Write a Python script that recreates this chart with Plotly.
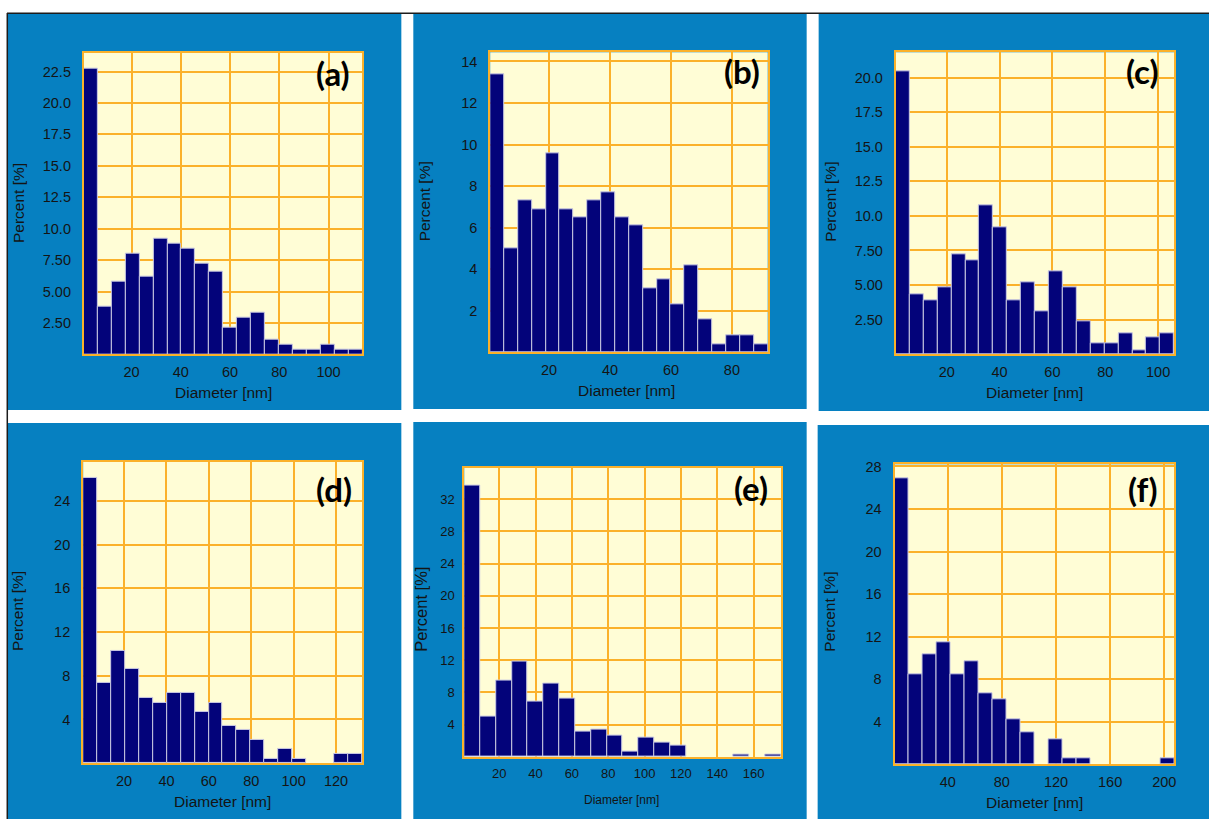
import numpy as np
import plotly.graph_objects as go

W, H = 1211, 819

# ---- data: percent of particles per diameter bin (20 bins per sample) ----
panel_labels = ["(a)", "(b)", "(c)", "(d)", "(e)", "(f)"]
bin_start_nm = [0.65, 0.66, 0.72, 0.71, 0.77, 0.66]
bin_width_nm = [5.655, 4.555, 5.266, 6.58, 8.716, 10.33]

pct_a = [22.7, 3.8, 5.8, 8.0, 6.2, 9.2, 8.8, 8.4, 7.2, 6.6,
         2.1, 2.9, 3.3, 1.2, 0.8, 0.4, 0.4, 0.8, 0.4, 0.4]
pct_b = [13.4, 5.0, 7.3, 6.9, 9.6, 6.9, 6.5, 7.3, 7.7, 6.5,
         6.1, 3.1, 3.5, 2.3, 4.2, 1.6, 0.4, 0.8, 0.8, 0.4]
pct_c = [20.5, 4.3, 3.9, 4.8, 7.2, 6.8, 10.8, 9.2, 3.9, 5.2,
         3.1, 6.0, 4.8, 2.4, 0.8, 0.8, 1.5, 0.3, 1.2, 1.5]
pct_d = [26.1, 7.3, 10.3, 8.6, 6.0, 5.5, 6.4, 6.4, 4.7, 5.5,
         3.4, 3.0, 2.1, 0.4, 1.3, 0.4, 0.0, 0.0, 0.8, 0.8]
pct_e = [33.7, 5.0, 9.5, 11.8, 6.9, 9.1, 7.3, 3.1, 3.4, 2.7,
         0.7, 2.4, 1.8, 1.4, 0.0, 0.0, 0.0, 0.3, 0.0, 0.3]
pct_f = [26.9, 8.5, 10.3, 11.5, 8.5, 9.7, 6.7, 6.1, 4.2, 3.0,
         0.0, 2.4, 0.6, 0.6, 0.0, 0.0, 0.0, 0.0, 0.0, 0.6]
percents = [pct_a, pct_b, pct_c, pct_d, pct_e, pct_f]

x_ticks_a = [20, 40, 60, 80, 100]
x_ticks_b = [20, 40, 60, 80]
x_ticks_c = [20, 40, 60, 80, 100]
x_ticks_d = [20, 40, 60, 80, 100, 120]
x_ticks_e = [20, 40, 60, 80, 100, 120, 140, 160]
x_ticks_f = [40, 80, 120, 160, 200]
x_ticks = [x_ticks_a, x_ticks_b, x_ticks_c, x_ticks_d, x_ticks_e, x_ticks_f]

y_ticks_a = [2.5, 5.0, 7.5, 10.0, 12.5, 15.0, 17.5, 20.0, 22.5]
y_text_a = ["2.50", "5.00", "7.50", "10.0", "12.5", "15.0", "17.5", "20.0", "22.5"]
y_ticks_b = [2, 4, 6, 8, 10, 12, 14]
y_text_b = ["2", "4", "6", "8", "10", "12", "14"]
y_ticks_c = [2.5, 5.0, 7.5, 10.0, 12.5, 15.0, 17.5, 20.0]
y_text_c = ["2.50", "5.00", "7.50", "10.0", "12.5", "15.0", "17.5", "20.0"]
y_ticks_d = [4, 8, 12, 16, 20, 24]
y_text_d = ["4", "8", "12", "16", "20", "24"]
y_ticks_e = [4, 8, 12, 16, 20, 24, 28, 32]
y_text_e = ["4", "8", "12", "16", "20", "24", "28", "32"]
y_ticks_f = [4, 8, 12, 16, 20, 24, 28]
y_text_f = ["4", "8", "12", "16", "20", "24", "28"]
y_ticks = [y_ticks_a, y_ticks_b, y_ticks_c, y_ticks_d, y_ticks_e, y_ticks_f]
y_texts = [y_text_a, y_text_b, y_text_c, y_text_d, y_text_e, y_text_f]

# ---- layout (pixel boxes) ----
y_top = [24.0, 14.44, 21.84, 27.58, 35.9, 28.2]
panel_box = [(8, 8, 402, 407), (414, 8, 808, 406), (820, 8, 1211, 408),
             (8, 420, 402, 819), (414, 419, 808, 819), (819, 422, 1211, 819)]
plot_box = [(84, 47, 363, 351), (491, 46.7, 769, 349), (897.3, 46.7, 1176, 350.7),
            (83.3, 459.3, 362.7, 762.7), (465, 465, 782.3, 756.5), (896, 461.7, 1176, 764)]
label_pos = [(334, 67), (743, 65), (1144, 65), (335, 487), (752, 486), (1145, 487)]
xtitle_pos = [(223.5, 389), (628, 387.5), (1036.5, 389.5), (223, 801.5), (623, 799.5), (1036, 802.5)]
ytitle_pos = [(18.5, 198), (425.5, 197), (831.5, 197), (17.5, 609), (421, 608), (830.5, 610)]

BLUE = "#0680C1"
PLOT_BG = "#FFFDD6"
GRID = "#FBB12A"
BAR = "#03037A"
BAR_EDGE = "#C9C9E2"
TXT = "#141414"
FONT = "Liberation Sans, Arial, sans-serif"


def px_x(v):
    return v / W


def px_y(v):
    return 1 - v / H


fig = go.Figure()
shapes = []
annotations = []
layout_axes = {}

for i in range(6):
    n = i + 1
    xa = "x" if n == 1 else f"x{n}"
    ya = "y" if n == 1 else f"y{n}"
    x0, y0, x1, y1 = plot_box[i]
    bx0, by0, bx1, by1 = panel_box[i]
    vals = percents[i]
    start, width = bin_start_nm[i], bin_width_nm[i]
    centers = start + width * (np.arange(len(vals)) + 0.5)
    # empty bins get no bar at all (no outline along the baseline)
    heights = [v if v > 0 else None for v in vals]
    compact = i == 4

    fig.add_trace(go.Bar(
        x=centers, y=heights, width=width, xaxis=xa, yaxis=ya,
        marker=dict(color=BAR, line=dict(color=BAR_EDGE, width=1)),
        showlegend=False, hoverinfo="x+y",
    ))

    shapes.append(dict(type="rect", xref="paper", yref="paper", layer="below",
                       x0=px_x(bx0), x1=px_x(bx1), y0=px_y(by1), y1=px_y(by0),
                       fillcolor=BLUE, line=dict(width=0)))
    shapes.append(dict(type="rect", xref="paper", yref="paper", layer="below",
                       x0=px_x(x0), x1=px_x(x1), y0=px_y(y1), y1=px_y(y0),
                       fillcolor=PLOT_BG, line=dict(width=0)))

    axis_common = dict(showgrid=True, gridcolor=GRID, gridwidth=1.5,
                       showline=True, linecolor=GRID, linewidth=2, mirror=True,
                       zeroline=False, ticks="", fixedrange=True,
                       tickfont=dict(family=FONT, size=13 if compact else 14.5, color=TXT))
    layout_axes["xaxis" if n == 1 else f"xaxis{n}"] = dict(
        axis_common, domain=[px_x(x0), px_x(x1)], anchor=ya,
        range=[start, start + width * len(vals)],
        tickmode="array", tickvals=x_ticks[i],
        ticktext=[str(t) for t in x_ticks[i]], ticklabelstandoff=3)
    layout_axes["yaxis" if n == 1 else f"yaxis{n}"] = dict(
        axis_common, domain=[px_y(y1), px_y(y0)], anchor=xa,
        range=[0, y_top[i]], tickmode="array", tickvals=y_ticks[i],
        ticktext=y_texts[i], ticklabelstandoff=5 if compact else 8)

    lx, ly = label_pos[i]
    annotations.append(dict(text=f"<b>{panel_labels[i]}</b>", xref="paper", yref="paper",
                            x=px_x(lx), y=px_y(ly), showarrow=False,
                            xanchor="center", yanchor="middle",
                            font=dict(family="Lato, Open Sans, sans-serif", size=33, color="#000")))
    tx, ty = xtitle_pos[i]
    annotations.append(dict(text="Diameter [nm]", xref="paper", yref="paper",
                            x=px_x(tx), y=px_y(ty), showarrow=False,
                            xanchor="center", yanchor="middle",
                            font=dict(family=FONT, size=12 if compact else 15.5, color=TXT)))
    vx, vy = ytitle_pos[i]
    annotations.append(dict(text="Percent [%]", xref="paper", yref="paper",
                            x=px_x(vx), y=px_y(vy), showarrow=False, textangle=-90,
                            xanchor="center", yanchor="middle",
                            font=dict(family=FONT, size=16.5 if compact else 15.5, color=TXT)))

# thin dark frame lines along the top and left edges of the figure
shapes.append(dict(type="line", xref="paper", yref="paper", layer="above",
                   x0=px_x(7), x1=1, y0=px_y(7.3), y1=px_y(7.3),
                   line=dict(color="#1C1C1C", width=1.5)))
shapes.append(dict(type="line", xref="paper", yref="paper", layer="above",
                   x0=px_x(7.3), x1=px_x(7.3), y0=0, y1=px_y(7),
                   line=dict(color="#1C1C1C", width=1.5)))

fig.update_layout(
    width=W, height=H, margin=dict(l=0, r=0, t=0, b=0),
    paper_bgcolor="white", plot_bgcolor=PLOT_BG,
    bargap=0, showlegend=False,
    shapes=shapes, annotations=annotations,
    **layout_axes,
)

fig.write_html("out.html", config={"displayModeBar": False})
